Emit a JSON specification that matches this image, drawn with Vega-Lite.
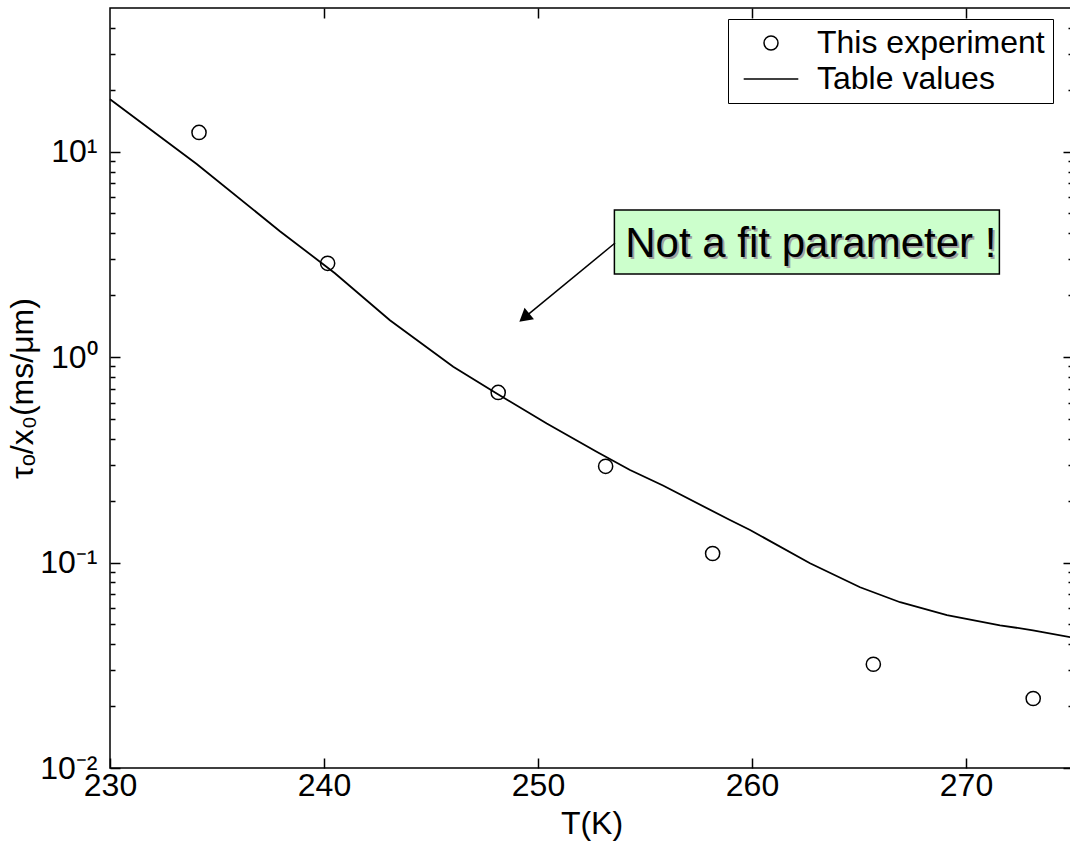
{
  "$schema": "https://vega.github.io/schema/vega-lite/v6.json",
  "width": 963,
  "height": 760,
  "autosize": {"type": "none"},
  "padding": {"left": 110, "top": 8, "right": -3, "bottom": 76},
  "background": "white",
  "config": {
    "view": {"stroke": "black", "strokeWidth": 1.5},
    "font": "Liberation Sans",
    "axis": {"grid": false, "domain": false, "tickColor": "black", "tickWidth": 1.5, "labelColor": "black", "titleColor": "black", "titleFontWeight": "normal", "labelFont": "Liberation Sans", "titleFont": "Liberation Sans"}
  },
  "datasets": {
    "table": [
      {"T": 230, "v": 18.0},
      {"T": 234.05, "v": 8.7},
      {"T": 237.94, "v": 4.1},
      {"T": 240.51, "v": 2.56},
      {"T": 243.08, "v": 1.51},
      {"T": 246.04, "v": 0.897},
      {"T": 248.07, "v": 0.665},
      {"T": 250.41, "v": 0.475},
      {"T": 252.74, "v": 0.346},
      {"T": 254.3, "v": 0.282},
      {"T": 255.84, "v": 0.237},
      {"T": 258.97, "v": 0.161},
      {"T": 259.91, "v": 0.144},
      {"T": 262.71, "v": 0.0992},
      {"T": 265.05, "v": 0.0758},
      {"T": 266.92, "v": 0.0641},
      {"T": 269.11, "v": 0.0554},
      {"T": 271.59, "v": 0.0495},
      {"T": 273.13, "v": 0.0468},
      {"T": 275, "v": 0.0431}
    ],
    "exp": [
      {"T": 234.16, "v": 12.4, "series": "This experiment"},
      {"T": 240.17, "v": 2.86, "series": "This experiment"},
      {"T": 248.14, "v": 0.673, "series": "This experiment"},
      {"T": 253.16, "v": 0.294, "series": "This experiment"},
      {"T": 258.16, "v": 0.1106, "series": "This experiment"},
      {"T": 265.67, "v": 0.032, "series": "This experiment"},
      {"T": 273.14, "v": 0.0218, "series": "This experiment"}
    ],
    "note": [
      {"T": 253.57, "T2": 271.56, "v": 2.54, "v2": 5.2, "Tt": 262.75, "vt": 3.07, "label": "Not a fit parameter !"}
    ],
    "arrow": [
      {"T": 253.6, "v": 3.59, "T2": 249.36, "v2": 1.555}
    ]
  },
  "layer": [
    {
      "data": {"name": "table"},
      "mark": {"type": "line", "color": "black", "strokeWidth": 1.8},
      "encoding": {
        "x": {"field": "T", "type": "quantitative", "scale": {"domain": [230, 275], "nice": false, "zero": false},
          "axis": {"orient": "bottom", "values": [230, 240, 250, 260, 270], "tickSize": -10, "labelFontSize": 32, "labelFlush": false, "labelOverlap": false, "labelPadding": 12, "title": "T(K)", "titleFontSize": 32, "titlePadding": 7}},
        "y": {"field": "v", "type": "quantitative", "scale": {"type": "log", "domain": [0.01, 50], "nice": false},
          "axis": {"orient": "left", "values": [0.01, 0.1, 1, 10], "tickSize": -10, "labelFontSize": 32, "labelFlush": false, "labelOverlap": false, "labelPadding": 23, "labelBaseline": "middle",
            "labelExpr": "datum.value == 10 ? '10¹' : datum.value == 1 ? '10⁰' : datum.value == 0.1 ? '10⁻¹' : datum.value == 0.01 ? '10⁻²' : ''",
            "title": "τₒ/x₀(ms/μm)", "titleFontSize": 32, "titlePadding": 0}}
      }
    },
    {
      "data": {"name": "note"},
      "mark": {"type": "rect", "fill": "#ccffcc", "stroke": "black", "strokeWidth": 1.5},
      "encoding": {
        "x": {"field": "T", "type": "quantitative", "scale": {"domain": [230, 275], "nice": false, "zero": false},
          "axis": {"orient": "top", "values": [240, 250, 260, 270], "tickSize": -10, "labels": false, "title": null}},
        "x2": {"field": "T2"},
        "y": {"field": "v", "type": "quantitative", "scale": {"type": "log", "domain": [0.01, 50], "nice": false},
          "axis": {"orient": "left", "values": [0.02, 0.03, 0.04, 0.05, 0.06, 0.07, 0.08, 0.09, 0.2, 0.3, 0.4, 0.5, 0.6, 0.7, 0.8, 0.9, 2, 3, 4, 5, 6, 7, 8, 9, 20, 30, 40], "tickSize": -5, "labels": false, "title": null}},
        "y2": {"field": "v2"}
      }
    },
    {
      "data": {"name": "note"},
      "mark": {"type": "text", "fontSize": 42, "font": "Liberation Sans", "color": "#a0a0a0", "align": "center", "baseline": "alphabetic", "dx": 2, "dy": 2},
      "encoding": {
        "x": {"field": "Tt", "type": "quantitative", "scale": {"domain": [230, 275], "nice": false, "zero": false},
          "axis": null},
        "y": {"field": "vt", "type": "quantitative", "scale": {"type": "log", "domain": [0.01, 50], "nice": false},
          "axis": {"orient": "right", "values": [0.01, 0.1, 1, 10], "tickSize": -10, "labels": false, "title": null}},
        "text": {"field": "label"}
      }
    },
    {
      "data": {"name": "note"},
      "mark": {"type": "text", "fontSize": 42, "font": "Liberation Sans", "color": "black", "align": "center", "baseline": "alphabetic"},
      "encoding": {
        "x": {"field": "Tt", "type": "quantitative", "scale": {"domain": [230, 275], "nice": false, "zero": false}, "axis": null},
        "y": {"field": "vt", "type": "quantitative", "scale": {"type": "log", "domain": [0.01, 50], "nice": false},
          "axis": {"orient": "right", "values": [0.02, 0.03, 0.04, 0.05, 0.06, 0.07, 0.08, 0.09, 0.2, 0.3, 0.4, 0.5, 0.6, 0.7, 0.8, 0.9, 2, 3, 4, 5, 6, 7, 8, 9, 20, 30, 40], "tickSize": -5, "labels": false, "title": null}},
        "text": {"field": "label"}
      }
    },
    {
      "data": {"name": "arrow"},
      "mark": {"type": "rule", "color": "black", "strokeWidth": 1.5},
      "encoding": {
        "x": {"field": "T", "type": "quantitative", "scale": {"domain": [230, 275], "nice": false, "zero": false}, "axis": null},
        "x2": {"field": "T2"},
        "y": {"field": "v", "type": "quantitative", "scale": {"type": "log", "domain": [0.01, 50], "nice": false}, "axis": null},
        "y2": {"field": "v2"}
      }
    },
    {
      "data": {"name": "arrow"},
      "mark": {"type": "point", "shape": "triangle-up", "angle": 230.6, "size": 220, "filled": true, "color": "black", "opacity": 1},
      "encoding": {
        "x": {"field": "T2", "type": "quantitative", "scale": {"domain": [230, 275], "nice": false, "zero": false}, "axis": null},
        "y": {"field": "v2", "type": "quantitative", "scale": {"type": "log", "domain": [0.01, 50], "nice": false}, "axis": null}
      }
    },
    {
      "data": {"name": "exp"},
      "mark": {"type": "point", "filled": false, "color": "black", "strokeWidth": 1.5, "size": 200, "opacity": 1},
      "encoding": {
        "x": {"field": "T", "type": "quantitative", "scale": {"domain": [230, 275], "nice": false, "zero": false}, "axis": null},
        "y": {"field": "v", "type": "quantitative", "scale": {"type": "log", "domain": [0.01, 50], "nice": false}, "axis": null},
        "shape": {"field": "series", "type": "nominal",
          "scale": {"domain": ["This experiment", "Table values"], "range": ["circle", "M -3.9 0 L 3.9 0"]},
          "legend": {"title": null, "orient": "none", "legendX": 618, "legendY": 11, "labelFontSize": 32, "labelFont": "Liberation Sans", "labelColor": "black", "labelLimit": 0, "symbolSize": 196, "symbolStrokeWidth": 1.5, "symbolStrokeColor": "black", "symbolFillColor": "transparent", "strokeColor": "black", "fillColor": "white", "padding": 8, "symbolOffset": 19, "labelOffset": 30, "rowPadding": 4}}
      }
    }
  ],
  "resolve": {"axis": {"x": "independent", "y": "independent"}}
}
